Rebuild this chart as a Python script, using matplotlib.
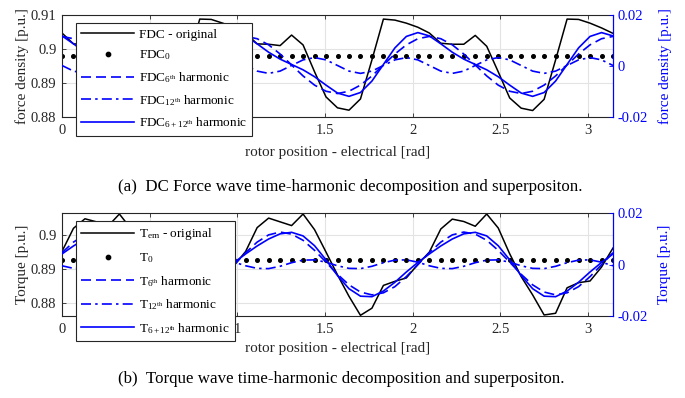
import numpy as np
import matplotlib
matplotlib.use("Agg")
import matplotlib.pyplot as plt

plt.rcParams['font.family'] = ['Liberation Serif', 'DejaVu Serif']
plt.rcParams['mathtext.fontset'] = 'custom'
plt.rcParams['mathtext.rm'] = 'Liberation Serif'
plt.rcParams['mathtext.it'] = 'Liberation Serif:italic'
plt.rcParams['mathtext.bf'] = 'Liberation Serif:bold'
plt.rcParams['axes.unicode_minus'] = False

# ---------------- data ----------------
rotor_pos = np.linspace(0, np.pi, 49)  # electrical rad

fdc_original = [0.9047, 0.9015, 0.9014, 0.9013, 0.9041, 0.9008, 0.8933, 0.8855,
                0.8825, 0.8819, 0.8852, 0.8968, 0.9088, 0.9087, 0.9076, 0.9064,
                0.9047, 0.9015, 0.9014, 0.9010, 0.9041, 0.9012, 0.8933, 0.8859,
                0.8827, 0.8820, 0.8853, 0.8968, 0.9088, 0.9085, 0.9076, 0.9064,
                0.9047, 0.9017, 0.9014, 0.9014, 0.9040, 0.9008, 0.8933, 0.8856,
                0.8826, 0.8819, 0.8852, 0.8968, 0.9088, 0.9087, 0.9076, 0.9062,
                0.9046]
fdc_0 = 0.898
fdc_6 = [0.0116, 0.0107, 0.0083, 0.0047, 0.0004, -0.0039, -0.0075, -0.0099,
         -0.0108, -0.0099, -0.0075, -0.0039, 0.0004, 0.0047, 0.0083, 0.0107,
         0.0116, 0.0107, 0.0083, 0.0047, 0.0004, -0.0039, -0.0075, -0.0099,
         -0.0108, -0.0099, -0.0075, -0.0039, 0.0004, 0.0047, 0.0083, 0.0107,
         0.0116, 0.0107, 0.0083, 0.0047, 0.0004, -0.0039, -0.0075, -0.0099,
         -0.0108, -0.0099, -0.0075, -0.0039, 0.0004, 0.0047, 0.0083, 0.0107,
         0.0116]
fdc_12 = [0.0002, -0.0020, -0.0029, -0.0020, 0.0002, 0.0024, 0.0033, 0.0024,
          0.0002, -0.0020, -0.0029, -0.0020, 0.0002, 0.0024, 0.0033, 0.0024,
          0.0002, -0.0020, -0.0029, -0.0020, 0.0002, 0.0024, 0.0033, 0.0024,
          0.0002, -0.0020, -0.0029, -0.0020, 0.0002, 0.0024, 0.0033, 0.0024,
          0.0002, -0.0020, -0.0029, -0.0020, 0.0002, 0.0024, 0.0033, 0.0024,
          0.0002, -0.0020, -0.0029, -0.0020, 0.0002, 0.0024, 0.0033, 0.0024,
          0.0002]
fdc_6_12 = [0.0118, 0.0087, 0.0054, 0.0027, 0.0006, -0.0015, -0.0042, -0.0075,
            -0.0106, -0.0119, -0.0104, -0.0059, 0.0006, 0.0071, 0.0116, 0.0131,
            0.0118, 0.0087, 0.0054, 0.0027, 0.0006, -0.0015, -0.0042, -0.0075,
            -0.0106, -0.0119, -0.0104, -0.0059, 0.0006, 0.0071, 0.0116, 0.0131,
            0.0118, 0.0087, 0.0054, 0.0027, 0.0006, -0.0015, -0.0042, -0.0075,
            -0.0106, -0.0119, -0.0104, -0.0059, 0.0006, 0.0071, 0.0116, 0.0131,
            0.0118]

t_em = [0.8952, 0.9020, 0.9048, 0.9039, 0.9026, 0.9062, 0.9019, 0.8947,
        0.8878, 0.8822, 0.8765, 0.8778, 0.8848, 0.8862, 0.8869, 0.8911,
        0.8952, 0.9022, 0.9050, 0.9039, 0.9028, 0.9062, 0.9016, 0.8950,
        0.8883, 0.8820, 0.8764, 0.8785, 0.8852, 0.8864, 0.8874, 0.8914,
        0.8950, 0.9018, 0.9047, 0.9040, 0.9026, 0.9062, 0.9021, 0.8945,
        0.8878, 0.8824, 0.8765, 0.8770, 0.8845, 0.8860, 0.8865, 0.8906,
        0.8962]
t_0 = 0.89265
t_6 = [0.0046, 0.0087, 0.0115, 0.0126, 0.0118, 0.0094, 0.0055, 0.0009,
       -0.0038, -0.0079, -0.0107, -0.0118, -0.0110, -0.0086, -0.0047, -0.0001,
       0.0046, 0.0087, 0.0115, 0.0126, 0.0118, 0.0094, 0.0055, 0.0009,
       -0.0038, -0.0079, -0.0107, -0.0118, -0.0110, -0.0086, -0.0047, -0.0001,
       0.0046, 0.0087, 0.0115, 0.0126, 0.0118, 0.0094, 0.0055, 0.0009,
       -0.0038, -0.0079, -0.0107, -0.0118, -0.0110, -0.0086, -0.0047, -0.0001,
       0.0046]
t_12 = [-0.0005, -0.0015, -0.0016, -0.0007, 0.0007, 0.0017, 0.0018, 0.0009,
        -0.0005, -0.0015, -0.0016, -0.0007, 0.0007, 0.0017, 0.0018, 0.0009,
        -0.0005, -0.0015, -0.0016, -0.0007, 0.0007, 0.0017, 0.0018, 0.0009,
        -0.0005, -0.0015, -0.0016, -0.0007, 0.0007, 0.0017, 0.0018, 0.0009,
        -0.0005, -0.0015, -0.0016, -0.0007, 0.0007, 0.0017, 0.0018, 0.0009,
        -0.0005, -0.0015, -0.0016, -0.0007, 0.0007, 0.0017, 0.0018, 0.0009,
        -0.0005]
t_6_12 = [0.0041, 0.0072, 0.0099, 0.0119, 0.0125, 0.0111, 0.0073, 0.0018,
          -0.0043, -0.0094, -0.0123, -0.0125, -0.0103, -0.0069, -0.0029, 0.0008,
          0.0041, 0.0072, 0.0099, 0.0119, 0.0125, 0.0111, 0.0073, 0.0018,
          -0.0043, -0.0094, -0.0123, -0.0125, -0.0103, -0.0069, -0.0029, 0.0008,
          0.0041, 0.0072, 0.0099, 0.0119, 0.0125, 0.0111, 0.0073, 0.0018,
          -0.0043, -0.0094, -0.0123, -0.0125, -0.0103, -0.0069, -0.0029, 0.0008,
          0.0041]

x_ticks = [0, 0.5, 1, 1.5, 2, 2.5, 3]
# labels at 0.5 (and 1 in the top panel) sit under the legend box in the original
top_x_ticklabels = ['0', '', '', '1.5', '2', '2.5', '3']
bot_x_ticklabels = ['0', '', '1', '1.5', '2', '2.5', '3']
top_left_ticks = [0.88, 0.89, 0.9, 0.91]
top_left_labels = ['0.88', '0.89', '0.9', '0.91']
bot_left_ticks = [0.88, 0.89, 0.9]
bot_left_labels = ['0.88', '0.89', '0.9']
right_ticks = [-0.02, 0, 0.02]
right_labels = ['-0.02', '0', '0.02']

top_labels = ['FDC - original', 'FDC$_0$', 'FDC$_{6^{\\mathrm{th}}}$ harmonic',
              'FDC$_{12^{\\mathrm{th}}}$ harmonic', 'FDC$_{6+12^{\\mathrm{th}}}$ harmonic']
bot_labels = ['T$_{\\mathrm{em}}$ - original', 'T$_0$', 'T$_{6^{\\mathrm{th}}}$ harmonic',
              'T$_{12^{\\mathrm{th}}}$ harmonic', 'T$_{6+12^{\\mathrm{th}}}$ harmonic']

# ---------------- style ----------------
W, H = 685, 398
BLUE = '#0000ff'
DARK = '#262626'
GRID = '#e3e3e3'
TICK_FS = 10.5
LABEL_FS = 11
LEG_FS = 9.5
dash = (0, (6, 3))
dashdot = (0, (6, 2.5, 1.5, 2.5))

fig = plt.figure(figsize=(W / 100, H / 100), dpi=100)


def make_panel(rect, orig, c0, h6, h12, h612, ylim_l, xtl, lt, ltl, ylabel, labels,
               leg_pos, leg_spacing, xlab_y):
    ax = fig.add_axes(rect)
    ax.set_xlim(0, np.pi)
    ax.set_ylim(*ylim_l)
    ax.grid(True, color=GRID, lw=0.8, zorder=0)
    ax.set_axisbelow(True)
    l1, = ax.plot(rotor_pos, orig, color='black', lw=1.1, label=labels[0])
    l2, = ax.plot(rotor_pos, np.full(len(rotor_pos), c0), ls='none', marker='o',
                  ms=2.6, color='black', label=labels[1])
    ax.set_xticks(x_ticks)
    ax.set_xticklabels(xtl, fontsize=TICK_FS)
    ax.set_yticks(lt)
    ax.set_yticklabels(ltl, fontsize=TICK_FS)
    ax.tick_params(axis='x', direction='in', top=True, length=3, width=0.6,
                   color=DARK, labelcolor=DARK, pad=5)
    ax.tick_params(axis='y', direction='in', right=False, length=3, width=0.6,
                   color=DARK, labelcolor=DARK, pad=4)
    for s in ['left', 'top', 'bottom']:
        ax.spines[s].set_color(DARK)
        ax.spines[s].set_linewidth(0.8)
    ax.spines['right'].set_visible(False)
    ax.set_ylabel(ylabel, fontsize=LABEL_FS, color=DARK)
    ax.yaxis.set_label_coords(-33 / 551, 0.5)
    ax.set_xlabel('rotor position - electrical [rad]', fontsize=LABEL_FS, color=DARK)
    ax.xaxis.set_label_coords(0.5, xlab_y)

    ax2 = ax.twinx()
    ax2.set_ylim(-0.02, 0.02)
    l3, = ax2.plot(rotor_pos, h6, color=BLUE, lw=1.2, ls=dash, label=labels[2])
    l4, = ax2.plot(rotor_pos, h12, color=BLUE, lw=1.2, ls=dashdot, label=labels[3])
    l5, = ax2.plot(rotor_pos, h612, color=BLUE, lw=1.2, label=labels[4])
    ax2.set_yticks(right_ticks)
    ax2.set_yticklabels(right_labels, fontsize=TICK_FS)
    ax2.tick_params(axis='y', direction='in', length=3, width=0.6, color=BLUE,
                    labelcolor=BLUE, pad=3)
    for s in ['left', 'top', 'bottom']:
        ax2.spines[s].set_visible(False)
    ax2.spines['right'].set_color(BLUE)
    ax2.spines['right'].set_linewidth(0.9)
    ax2.set_ylabel(ylabel, fontsize=LABEL_FS, color=BLUE)
    ax2.yaxis.set_label_coords(1 + 45 / 551, 0.5)

    leg = ax2.legend(handles=[l1, l2, l3, l4, l5], labels=labels, loc='upper left',
                     bbox_to_anchor=(leg_pos[0] / W, 1 - leg_pos[1] / H),
                     bbox_transform=fig.transFigure, fontsize=LEG_FS, frameon=True,
                     fancybox=False, framealpha=1, edgecolor=DARK, borderaxespad=0,
                     borderpad=0.4, handlelength=4.0, handletextpad=0.35,
                     labelspacing=leg_spacing, numpoints=1, markerscale=1.2)
    leg.get_frame().set_linewidth(0.8)
    leg.set_zorder(10)
    return ax, ax2


make_panel([62 / W, 1 - 117 / H, 551 / W, 102 / H], fdc_original, fdc_0, fdc_6, fdc_12,
           fdc_6_12, (0.88, 0.91), top_x_ticklabels, top_left_ticks, top_left_labels,
           'force density [p.u.]', top_labels, (76, 23), 0.60, -0.285)
make_panel([62 / W, 1 - 316 / H, 551 / W, 103 / H], t_em, t_0, t_6, t_12,
           t_6_12, (0.8762, 0.9065), bot_x_ticklabels, bot_left_ticks, bot_left_labels,
           'Torque [p.u.]', bot_labels, (76, 221), 0.67, -0.255)

fig.text(118 / W, 1 - 187 / H,
         '(a)  DC Force wave time-harmonic decomposition and superpositon.',
         fontsize=12.2, ha='left', va='center', color='black')
fig.text(118 / W, 1 - 379 / H,
         '(b)  Torque wave time-harmonic decomposition and superpositon.',
         fontsize=12.2, ha='left', va='center', color='black')

fig.savefig('out.png', dpi=100)
